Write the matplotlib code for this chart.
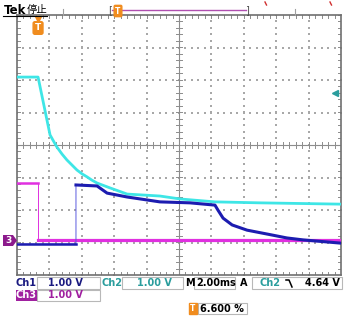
import numpy as np
import matplotlib
matplotlib.use("Agg")
import matplotlib.pyplot as plt
from matplotlib.patches import Rectangle, Polygon

# screen data in divisions (10 x 8 graticule, centre = 0)
ch2_x = [0, 0.65, 1.02, 1.11, 1.23, 1.39, 1.54, 1.70, 1.85, 2.01, 2.16, 2.31, 2.47, 2.87, 3.40, 4.41, 5.03, 6.11, 7.50, 10.0]
ch2_y = [2.09, 2.09, 0.31, 0.15, -0.06, -0.28, -0.46, -0.62, -0.77, -0.89, -0.98, -1.08, -1.17, -1.32, -1.51, -1.57, -1.66, -1.75, -1.78, -1.82]

ch1_x = [0, 1.82, 1.82, 2.47, 2.78, 3.40, 4.41, 5.34, 6.11, 6.20, 6.36, 6.64, 7.10, 7.72, 8.33, 8.83, 10.0]
ch1_y = [-3.05, -3.05, -1.23, -1.26, -1.48, -1.60, -1.75, -1.78, -1.85, -2.0, -2.25, -2.46, -2.62, -2.74, -2.86, -2.92, -3.02]

ch3_x = [0, 0.65, 0.65, 10.0]
ch3_y = [-1.17, -1.17, -2.92, -2.92]

trig_pos = 0.65      # horizontal trigger position (div)
trig_level = 1.6     # Ch2 trigger level marker (div)

C1 = "#1c1cb0"
C2 = "#3ee6e6"
C3 = "#e030e0"
C1_TXT = "#1a1a80"
C2_TXT = "#2a9d9d"
C3_TXT = "#a020a0"
ORANGE = "#f08c1e"
GRID = "#8c8c8c"
DOT = "#a8a8a8"

W, H = 348, 322
fig = plt.figure(figsize=(W / 100, H / 100), dpi=100)
fig.patch.set_facecolor("white")

def fx(x):
    return x / W

def fy(y):
    return 1 - y / H

ax = fig.add_axes([fx(17), fy(275), (341 - 17) / W, (275 - 15) / H])
ax.set_xlim(0, 10)
ax.set_ylim(-4, 4)
ax.set_xticks([])
ax.set_yticks([])
for s in ax.spines.values():
    s.set_color("#707070")
    s.set_linewidth(1.2)

# dotted graticule
minor = np.arange(0, 10.01, 0.2)
minor_y = np.arange(-4, 4.01, 0.2)
for gx in range(1, 10):
    if gx == 5:
        continue
    ax.scatter(np.full(len(minor_y), gx), minor_y, s=0.7, marker="s", color=DOT, lw=0, zorder=1)
for gy in range(-3, 4):
    if gy == 0:
        continue
    ax.scatter(minor, np.full(len(minor), gy), s=0.7, marker="s", color=DOT, lw=0, zorder=1)

# centre cross with ticks
ax.axvline(5, color=GRID, lw=0.8, zorder=1)
ax.axhline(0, color=GRID, lw=0.8, zorder=1)
tl = 0.09
for t in minor:
    ax.plot([t, t], [-tl, tl], color=GRID, lw=0.7, zorder=1)
    ax.plot([t, t], [4 - tl, 4], color=GRID, lw=0.7, zorder=1)
    ax.plot([t, t], [-4, -4 + tl], color=GRID, lw=0.7, zorder=1)
for t in minor_y:
    ax.plot([5 - tl, 5 + tl], [t, t], color=GRID, lw=0.7, zorder=1)
    ax.plot([0, tl], [t, t], color=GRID, lw=0.7, zorder=1)
    ax.plot([10 - tl, 10], [t, t], color=GRID, lw=0.7, zorder=1)

# traces: thin vertical edges, thicker noisy-looking horizontals
ax.plot(ch3_x, ch3_y, color=C3, lw=0.7, zorder=3)
ax.plot(ch3_x[:2], ch3_y[:2], color=C3, lw=1.8, zorder=3)
ax.plot(ch3_x[2:], ch3_y[2:], color=C3, lw=2.3, zorder=3)

ax.plot(ch2_x, ch2_y, color=C2, lw=2.0, zorder=4, solid_joinstyle="round")

ax.plot(ch1_x, ch1_y, color="#5a5ae0", lw=0.7, zorder=5)
ax.plot(ch1_x[:2], ch1_y[:2], color=C1, lw=1.8, zorder=5)
ax.plot(ch1_x[2:], ch1_y[2:], color=C1, lw=2.2, zorder=5, solid_joinstyle="round")

# trigger position marker inside graticule
ax.text(trig_pos, 3.6, "T", ha="center", va="center", fontsize=6.5, fontweight="bold",
        color="white", zorder=6,
        bbox=dict(boxstyle="round,pad=0.2", fc=ORANGE, ec=ORANGE))
ax.plot([trig_pos], [3.88], marker="v", ms=4, color=ORANGE, zorder=6, clip_on=False)

# trigger level marker (right)
ax.plot([9.8], [trig_level], marker="<", ms=4, color=C2_TXT, zorder=6)

# ch3 ground marker (left)
fig.patches.append(Rectangle((fx(3), fy(246)), 10 / W, 11 / H, transform=fig.transFigure,
                             fc="#8c1a8c", ec="none"))
fig.patches.append(Polygon([(fx(13), fy(246)), (fx(17), fy(240.5)), (fx(13), fy(235))],
                           closed=True, transform=fig.transFigure, fc="#8c1a8c", ec="none"))
fig.text(fx(8), fy(240.5), "3", ha="center", va="center", fontsize=6.5, fontweight="bold", color="white")

# header
fig.text(fx(4), fy(10), "Tek", ha="left", va="center", fontsize=8.5, fontweight="bold", color="black")
fig.text(fx(27), fy(10), "停止", ha="left", va="center", fontsize=7.5,
         family=["Noto Sans CJK SC", "DejaVu Sans"], color="black")
fig.lines.append(plt.Line2D([fx(3), fx(47)], [fy(15.5), fy(15.5)], transform=fig.transFigure, color="black", lw=0.8))
for xx in (63, 295):
    fig.lines.append(plt.Line2D([fx(xx), fx(xx)], [fy(9), fy(15)], transform=fig.transFigure, color="#a0a0a0", lw=0.8))
fig.lines.append(plt.Line2D([fx(112), fx(246)], [fy(9.5), fy(9.5)], transform=fig.transFigure, color="#b050b0", lw=1.0))
fig.text(fx(110), fy(10), "[", ha="center", va="center", fontsize=7, color="#505050")
fig.text(fx(247), fy(10), "]", ha="center", va="center", fontsize=7, color="#505050")
fig.text(fx(118), fy(11), "T", ha="center", va="center", fontsize=5.5, fontweight="bold", color="white",
         bbox=dict(boxstyle="round,pad=0.15", fc=ORANGE, ec=ORANGE))
for xx in (265, 330):
    fig.lines.append(plt.Line2D([fx(xx), fx(xx + 1.5)], [fy(2), fy(5)], transform=fig.transFigure, color="#d03030", lw=1.0))

# readout boxes
def box(x0, x1, y0, y1):
    fig.patches.append(Rectangle((fx(x0), fy(y1)), (x1 - x0) / W, (y1 - y0) / H,
                                 transform=fig.transFigure, fc="white", ec="#b8b8b8", lw=0.8))

box(37, 100, 277, 289)
box(122, 183, 277, 289)
box(194, 235, 277, 289)
box(252, 342, 277, 289)
box(37, 100, 290, 301)
box(198, 247, 303, 314)

fs = 7
fig.text(fx(16), fy(283.5), "Ch1", ha="left", va="center", fontsize=fs, fontweight="bold", color=C1_TXT)
fig.text(fx(48), fy(283.5), "1.00 V", ha="left", va="center", fontsize=fs, fontweight="bold", color=C1_TXT)
fig.text(fx(102), fy(283.5), "Ch2", ha="left", va="center", fontsize=fs, fontweight="bold", color=C2_TXT)
fig.text(fx(137), fy(283.5), "1.00 V", ha="left", va="center", fontsize=fs, fontweight="bold", color=C2_TXT)
fig.text(fx(185), fy(283.5), "M", ha="left", va="center", fontsize=fs, fontweight="bold", color="black")
fig.text(fx(196), fy(283.5), "2.00ms", ha="left", va="center", fontsize=fs, fontweight="bold", color="black")
fig.text(fx(240), fy(283.5), "A", ha="left", va="center", fontsize=fs, fontweight="bold", color="black")
fig.text(fx(260), fy(283.5), "Ch2", ha="left", va="center", fontsize=fs, fontweight="bold", color=C2_TXT)
fig.lines.append(plt.Line2D([fx(286), fx(289), fx(292)], [fy(280), fy(280), fy(287)],
                            transform=fig.transFigure, color="black", lw=1.1))
fig.text(fx(340), fy(283.5), "4.64 V", ha="right", va="center", fontsize=fs, fontweight="bold", color="black")
fig.text(fx(16), fy(295.5), "Ch3", ha="left", va="center", fontsize=fs, fontweight="bold", color="white",
         bbox=dict(boxstyle="square,pad=0.05", fc="#a020a0", ec="none"))
fig.text(fx(48), fy(295.5), "1.00 V", ha="left", va="center", fontsize=fs, fontweight="bold", color=C3_TXT)
fig.text(fx(193), fy(308.5), "T", ha="center", va="center", fontsize=5.5, fontweight="bold", color="white",
         bbox=dict(boxstyle="square,pad=0.15", fc=ORANGE, ec=ORANGE))
fig.text(fx(200), fy(308.5), "6.600 %", ha="left", va="center", fontsize=fs, fontweight="bold", color="black")

fig.savefig("out.png", dpi=100)
